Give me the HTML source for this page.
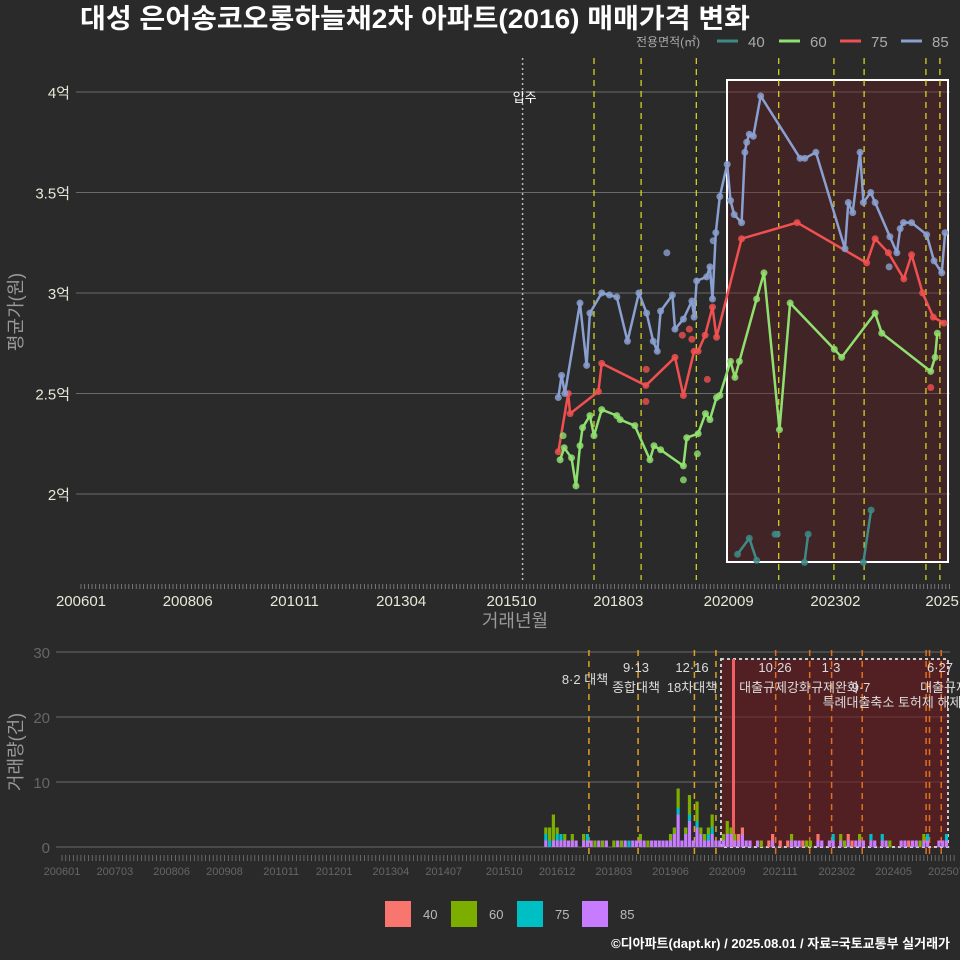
<!DOCTYPE html>
<html><head><meta charset="utf-8">
<style>
html,body{margin:0;padding:0;background:#2a2a2a;}
svg{display:block;font-family:"Liberation Sans","Noto Sans CJK KR",sans-serif;}
</style></head>
<body>
<svg id="chart" width="960" height="960" viewBox="0 0 960 960" xmlns="http://www.w3.org/2000/svg">
<rect width="960" height="960" fill="#2a2a2a"/>
<text x="80" y="28" fill="#ffffff" font-size="27" font-weight="bold" textLength="670" lengthAdjust="spacingAndGlyphs">대성 은어송코오롱하늘채2차 아파트(2016) 매매가격 변화</text>
<g font-size="15" fill="#aaaaaa">
<text x="636" y="46" font-size="12">전용면적(㎡)</text>
<line x1="717" y1="41" x2="738" y2="41" stroke="#3d8a87" stroke-width="3"/>
<text x="748" y="47">40</text>
<line x1="779" y1="41" x2="800" y2="41" stroke="#90e070" stroke-width="3"/>
<text x="810" y="47">60</text>
<line x1="840" y1="41" x2="861" y2="41" stroke="#f05050" stroke-width="3"/>
<text x="871" y="47">75</text>
<line x1="901" y1="41" x2="922" y2="41" stroke="#8aa0d0" stroke-width="3"/>
<text x="932" y="47">85</text>
</g>
<g id="topg"></g>
<g id="botg"></g>
<text x="515" y="627" fill="#999" font-size="18" text-anchor="middle">거래년월</text>
<text transform="translate(22,312) rotate(-90)" fill="#999" font-size="18" text-anchor="middle">평균가(원)</text>
<text transform="translate(22,752) rotate(-90)" fill="#999" font-size="18" text-anchor="middle">거래량(건)</text>
<g font-size="13" fill="#bbb">
<rect x="385" y="901" width="26" height="26" fill="#f8766d"/><text x="423" y="919">40</text>
<rect x="451" y="901" width="26" height="26" fill="#7cae00"/><text x="489" y="919">60</text>
<rect x="517" y="901" width="26" height="26" fill="#00bfc4"/><text x="555" y="919">75</text>
<rect x="582" y="901" width="26" height="26" fill="#c77cff"/><text x="620" y="919">85</text>
</g>
<text x="950" y="948" fill="#ffffff" font-size="13" font-weight="bold" text-anchor="end">©디아파트(dapt.kr) / 2025.08.01 / 자료=국토교통부 실거래가</text>
</svg>
<script>
const s85m=[129.7,130.6,131.5,135.6,137.4,138.3,141.5,143.6,145.6,148.5,151.6,153.7,155.5,156.6,157.5,160.7,161.4,163.7,166,166.6,167.3,170,170.9,171.6,172.5,173.6,175.6,176.5,177.5,179.5,180.4,180.9,181.6,182.7,184.7,195.4,196.7,199.7,207.6,208.5,209.7,211.7,212.6,214.6,215.8,219.8,221.7,222.6,223.5,225.7,229.8,231.8,233.9,234.8];
const s85v=[2.48,2.59,2.50,2.95,2.64,2.90,3.00,2.99,2.98,2.76,3.00,2.90,2.76,2.71,2.91,2.99,2.82,2.87,2.96,2.88,3.06,3.08,3.13,2.97,3.30,3.48,3.64,3.46,3.39,3.35,3.70,3.75,3.79,3.78,3.98,3.67,3.67,3.70,3.22,3.45,3.40,3.70,3.45,3.50,3.45,3.28,3.20,3.32,3.35,3.35,3.29,3.16,3.10,3.30];
const s75m=[129.7,132.4,132.9,140.6,141.5,153.5,161.4,163.7,166.6,167.7,169.6,171.6,172.7,179.5,194.6,213.5,215.8,219.4,223.6,225.7,228.7,231.6,234.5];
const s75v=[2.21,2.50,2.40,2.51,2.65,2.54,2.68,2.49,2.71,2.71,2.79,2.93,2.78,3.27,3.35,3.15,3.27,3.20,3.07,3.19,3.00,2.88,2.85];
const s60m=[130.2,131.3,133.3,134.5,135.6,136.3,138.3,139.4,141.5,145.6,146.5,150.5,154.6,155.7,157.5,163.7,164.6,167.7,169.7,170.9,172.7,173.6,176.5,177.7,178.9,183.6,185.6,189.8,192.7,204.7,206.7,215.8,217.6,230.9,232.1,232.7];
const s60v=[2.17,2.23,2.18,2.04,2.24,2.33,2.39,2.29,2.42,2.39,2.37,2.34,2.17,2.24,2.22,2.14,2.28,2.30,2.40,2.37,2.48,2.49,2.66,2.58,2.66,2.97,3.10,2.32,2.95,2.72,2.68,2.90,2.80,2.61,2.68,2.80];
const s40m=[178.4,181.6,183.6,null,188.6,189.2,null,196.6,197.6,null,212.6,214.7];
const s40v=[1.70,1.78,1.67,null,1.80,1.80,null,1.66,1.80,null,1.66,1.92];
const extraM=[131.0,153.5,153.6,163.7,167.5,170.2,159.2,163.4,165.3,166,171.8,230.9,219.6];
const extraV=[2.29,2.46,2.62,2.07,2.20,2.57,3.20,2.79,2.82,2.77,3.26,2.53,3.13];
const topTickM=[0,29,58,87,117,146,176,205,234];
const topTickL=["200601","200806","201011","201304","201510","201803","202009","202302","2025"];
const yTicks=[2,2.5,3,3.5,4];
const yTickL=["2억","2.5억","3억","3.5억","4억"];
const policyM=[139.4,152.2,167.2,189.6,204.6,212.8,229.6,233.4];
const volStart=128;
const v40=[0,0,0,0,0,0,0,0,0,0, 0,0,0,0,0,0,0,0,0,0, 0,0,0,0,0,0,0,0,0,0, 0,0,0,0,0,0,0,0,0,0, 0,0,0,0,0,0,0,0,0,0, 0,1,1,0,0,0,0,0,0,1, 1,0,1,0,1,0,0,0,1,0, 0,0,1,0,0,0,0,0,0,0, 1,1,0,0,0,0,0,0,0,0, 0,0,0,0,0,0,1,0,0,0, 0,0,0,0,0,0,0];
const v60=[1,2,4,1,0,1,0,1,0,0, 1,0,0,1,0,1,0,0,1,0, 1,0,0,0,0,1,0,1,0,0, 0,0,0,1,1,3,0,1,3,0, 3,1,1,1,2,0,0,1,2,1, 1,0,0,0,0,0,0,1,0,0, 0,0,0,0,0,1,0,0,0,1, 1,0,0,0,0,0,0,0,1,1, 0,0,0,1,0,0,0,0,0,0, 0,1,0,0,0,0,0,0,0,1, 1,0,0,0,0,0,0];
const v75=[1,1,0,1,1,0,0,0,0,0, 0,1,0,0,0,0,0,0,0,0, 0,0,1,0,0,0,0,0,0,0, 0,0,0,0,0,1,0,0,1,0, 1,0,0,1,1,0,0,0,0,0, 0,0,0,0,0,0,0,0,0,0, 0,0,0,0,0,0,0,0,0,0, 0,0,0,0,0,0,1,0,0,0, 0,0,0,0,0,0,1,0,0,1, 0,0,0,0,0,0,0,0,0,0, 0,1,0,0,0,0,1];
const v85=[1,0,1,1,1,1,1,1,1,0, 1,1,1,0,1,0,1,0,0,1, 0,1,0,1,1,1,1,0,1,1, 1,1,1,1,2,5,1,2,4,1, 3,2,1,1,2,1,1,1,2,2, 1,1,2,1,1,0,1,0,0,0, 1,0,0,0,0,1,1,1,0,0, 0,0,1,1,0,1,1,0,1,0, 1,0,1,1,1,0,1,1,0,1, 1,0,0,0,1,1,0,1,1,0, 1,1,0,0,1,1,1];
const botTickM=[0,14,29,43,58,72,87,101,117,131,146,161,176,190,205,220,234];
const botTickL=["200601","200703","200806","200908","201011","201201","201304","201407","201510","201612","201803","201906","202009","202111","202302","202405","202507"];
const vTicks=[0,10,20,30];
const botPolicyM=[139.4,152.4,167.3,173.0,188.8,197.8,203.6,211.7,228.6,229.5,232.6];
const NS="http://www.w3.org/2000/svg";
const xT=m=>81+m*3.68;
const yT=v=>92+(4-v)*201;
const xB=m=>62+m*3.78;
const yB=c=>847-c*6.5;
function mk(tag,attrs,parent){const e=document.createElementNS(NS,tag);for(const k in attrs)e.setAttribute(k,attrs[k]);parent.appendChild(e);return e;}
const gTop=document.getElementById('topg'), gBot=document.getElementById('botg');
yTicks.forEach((v,i)=>{
 let l=mk('line',{x1:76,x2:950,y1:yT(v),y2:yT(v),stroke:'#6a6a6a','stroke-width':1},gTop);
 
 
 let t=mk('text',{x:70,y:yT(v)+6,fill:'#e8e8d8','font-size':15,'text-anchor':'end'},gTop);
 t.textContent=yTickL[i];
 
 
});
let hb=mk('rect',{x:727,y:80,width:221,height:482,fill:'rgba(110,25,30,0.35)',stroke:'#ffffff','stroke-width':2},gTop);


let mv=mk('line',{x1:xT(120),x2:xT(120),y1:58,y2:580,stroke:'#bbbbbb','stroke-width':1.5,'stroke-dasharray':'2,3'},gTop);


let mvt=mk('text',{x:xT(120)+2,y:102,fill:'#ffffff','font-size':13,'text-anchor':'middle'},gTop);
mvt.textContent='입주';


policyM.forEach(m=>{
 let l=mk('line',{x1:xT(m),x2:xT(m),y1:58,y2:580,stroke:'#e0e020','stroke-width':1.2,'stroke-dasharray':'6,5'},gTop);
 
 
});
for(let m=0;m<=236;m+=1){
 let l=mk('line',{x1:xT(m),x2:xT(m),y1:584,y2:589,stroke:'#888','stroke-width':0.8},gTop);
 
 
}
topTickM.forEach((m,i)=>{
 let t=mk('text',{x:xT(m),y:606,fill:'#e8e8d8','font-size':15,'text-anchor':'middle'},gTop);
 t.textContent=topTickL[i];
 
 
});
function series(ms,vs,color,name){
 let d='',pen=false;
 ms.forEach((m,i)=>{if(m===null){pen=false;return;}d+=(pen?'L':'M')+xT(m).toFixed(1)+','+yT(vs[i]).toFixed(1);pen=true;});
 let p=mk('path',{d:d,fill:'none',stroke:color,'stroke-width':2.5,'stroke-linejoin':'round'},gTop);
 
 
 ms.forEach((m,i)=>{if(m===null)return;
  let c=mk('circle',{cx:xT(m),cy:yT(vs[i]),r:3.5,fill:color,opacity:0.85},gTop);
  
  
 });
}
series(s40m,s40v,'#3d8a87','40');
series(s60m,s60v,'#90e070','60');
series(s75m,s75v,'#f05050','75');
series(s85m,s85v,'#8aa0d0','85');
extraM.forEach((m,i)=>{
 let c=mk('circle',{cx:xT(m),cy:yT(extraV[i]),r:3.5,fill:extraV[i]>3.1?'#8aa0d0':(extraV[i]>2.45?'#f05050':'#90e070'),opacity:0.8},gTop);
 
 
});
vTicks.forEach(v=>{
 let l=mk('line',{x1:56,x2:950,y1:yB(v),y2:yB(v),stroke:'#6a6a6a','stroke-width':1},gBot);
 
 
 let t=mk('text',{x:50,y:yB(v)+6,fill:'#666','font-size':15,'text-anchor':'end'},gBot);
 t.textContent=v;
 
 
});
let bb=mk('rect',{x:721,y:659,width:227,height:188,fill:'rgba(110,25,30,0.6)',stroke:'#cccccc','stroke-width':2,'stroke-dasharray':'3,3'},gBot);


let rl=mk('line',{x1:733.5,x2:733.5,y1:659,y2:847,stroke:'#f06060','stroke-width':3},gBot);


botPolicyM.forEach(m=>{
 let l=mk('line',{x1:xB(m),x2:xB(m),y1:650,y2:858,stroke:m>180?'#e07020':'#e0a020','stroke-width':1.5,'stroke-dasharray':'6,5'},gBot);
 
 
});
const layers=[[v85,'#c77cff','85'],[v75,'#00bfc4','75'],[v60,'#7cae00','60'],[v40,'#f8766d','40']];
for(let i=0;i<v85.length;i++){
 let base=0;
 layers.forEach(([arr,col,nm])=>{
  const c=arr[i]||0; if(!c)return;
  let r=mk('rect',{x:xB(volStart+i)-1.6,y:yB(base+c),width:3.2,height:c*6.5,fill:col},gBot);
  
  
  base+=c;
 });
}
for(let m=0;m<=236;m+=1){
 let l=mk('line',{x1:xB(m),x2:xB(m),y1:855,y2:861,stroke:'#777','stroke-width':0.8},gBot);
 
 
}
botTickM.forEach((m,i)=>{
 let t=mk('text',{x:xB(m),y:875,fill:'#666','font-size':11,'text-anchor':'middle'},gBot);
 t.textContent=botTickL[i];
 
 
});
const ann=[[585,684,'8·2 대책'],[636,672,'9·13'],[636,692,'종합대책'],[692,672,'12·16'],[692,692,'18차대책'],[775,672,'10·26'],[775,692,'대출규제강화'],[831,672,'1·3'],[835,692,'규제완화'],[861,692,'9·7'],[892,707,'특례대출축소 토허제 해제'],[940,672,'6·27'],[944,692,'대출규제']];
ann.forEach(a=>{
 let t=mk('text',{x:a[0],y:a[1],fill:'#dddddd','font-size':13,'text-anchor':'middle'},gBot);
 t.textContent=a[2];
 
 
});
</script>
</body></html>
